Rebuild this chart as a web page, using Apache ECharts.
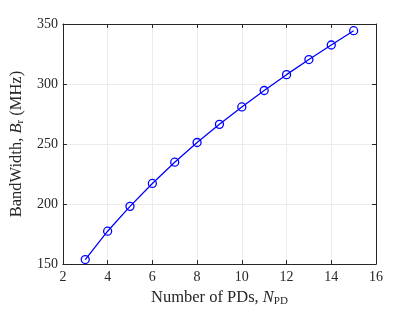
<!DOCTYPE html>
<html>
<head>
<meta charset="utf-8">
<script src="https://cdn.jsdelivr.net/npm/echarts@6/dist/echarts.min.js"></script>
<style>
  html, body { margin: 0; padding: 0; background: #fff; }
  #chart { width: 415px; height: 312px; }
</style>
</head>
<body>
<div id="chart"></div>
<script>
// number of PDs and bandwidth
var numPD = [3, 4, 5, 6, 7, 8, 9, 10, 11, 12, 13, 14, 15];
var bandwidth = [153.8, 177.4, 198.1, 217.2, 234.9, 251.3, 266.4, 280.9, 294.6, 307.8, 320.4, 332.5, 344.4];
var xTicks = [2, 4, 6, 8, 10, 12, 14, 16];
var yTicks = [150, 200, 250, 300, 350];

var points = numPD.map(function (n, i) { return [n, bandwidth[i]]; });
var font = 'Liberation Serif';
var axisColor = '#262626';

var chart = echarts.init(document.getElementById('chart'), null, { renderer: 'canvas' });

var xBase = {
  type: 'value',
  min: xTicks[0],
  max: xTicks[xTicks.length - 1],
  interval: 2,
  axisLine: { show: true, onZero: false, lineStyle: { color: axisColor, width: 1 } },
  axisTick: { show: true, inside: true, length: 4, lineStyle: { color: axisColor } }
};
var yBase = {
  type: 'value',
  min: yTicks[0],
  max: yTicks[yTicks.length - 1],
  interval: 50,
  axisLine: { show: true, onZero: false, lineStyle: { color: axisColor, width: 1 } },
  axisTick: { show: true, inside: true, length: 4, lineStyle: { color: axisColor } }
};

// rich text for the axis titles (italic symbol + subscript)
var nameRich = {
  a: { fontFamily: font, fontSize: 16.5, color: axisColor },
  i: { fontFamily: font, fontSize: 16.5, fontStyle: 'italic', color: axisColor },
  s: { fontFamily: font, fontSize: 11, color: axisColor, padding: [8, 0, 0, 0] }
};

chart.setOption({
  animation: false,
  grid: { left: 54, right: 39, top: 24, bottom: 40 },
  xAxis: [
    Object.assign({}, xBase, {
      position: 'bottom',
      name: '{a|Number of PDs, }{i|N}{s|PD}',
      nameLocation: 'middle',
      nameGap: 23,
      nameTextStyle: { rich: nameRich },
      axisLabel: { fontFamily: font, fontSize: 14, color: axisColor, margin: 6 },
      splitLine: { show: true, lineStyle: { color: '#ebebeb', width: 1 } }
    }),
    Object.assign({}, xBase, {
      position: 'top',
      axisLabel: { show: false },
      splitLine: { show: false }
    })
  ],
  yAxis: [
    Object.assign({}, yBase, {
      position: 'left',
      name: '{a|BandWidth, }{i|B}{s|r}{a| (MHz)}',
      nameLocation: 'middle',
      nameGap: 36,
      nameRotate: 90,
      nameTextStyle: { rich: nameRich },
      axisLabel: { fontFamily: font, fontSize: 14, color: axisColor, margin: 5 },
      splitLine: { show: true, lineStyle: { color: '#ebebeb', width: 1 } }
    }),
    Object.assign({}, yBase, {
      position: 'right',
      axisLabel: { show: false },
      splitLine: { show: false }
    })
  ],
  series: [
    {
      type: 'line',
      data: points,
      xAxisIndex: 0,
      yAxisIndex: 0,
      symbol: 'circle',
      symbolSize: 8,
      lineStyle: { color: '#0000ff', width: 1.3 },
      itemStyle: { color: 'rgba(0,0,0,0)', borderColor: '#0000ff', borderWidth: 1.3 }
    }
  ]
});
</script>
</body>
</html>
